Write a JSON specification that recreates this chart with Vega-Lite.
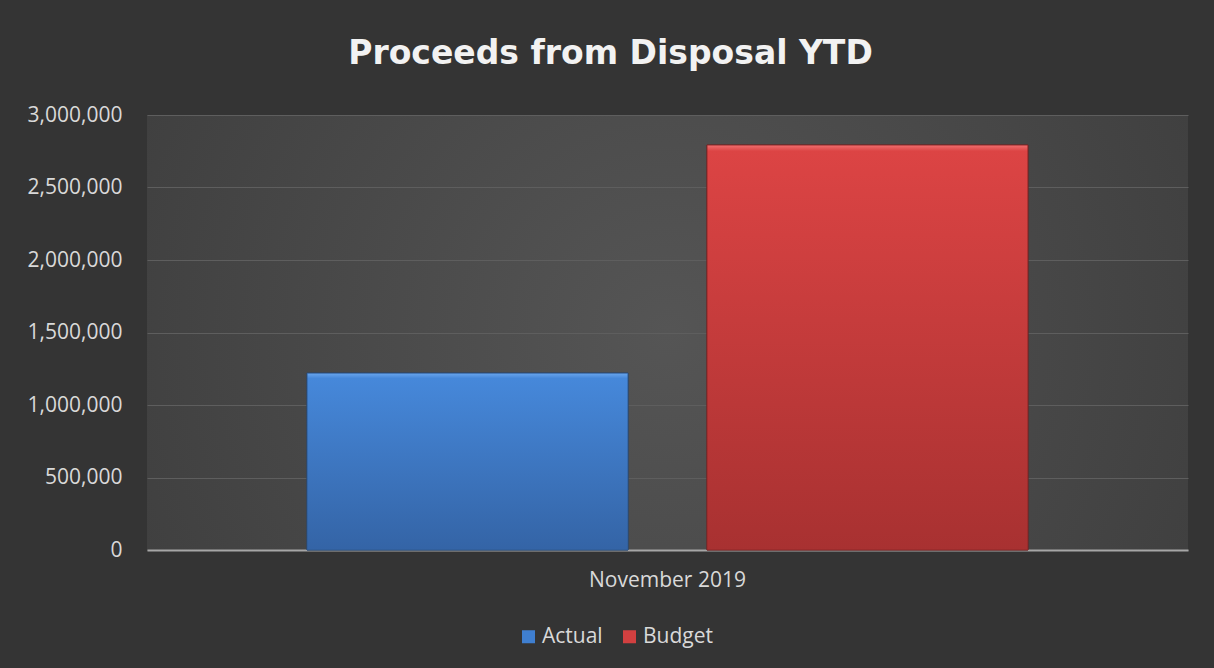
{
  "$schema": "https://vega.github.io/schema/vega-lite/v6.json",
  "width": 1041,
  "height": 435,
  "autosize": {"type": "none"},
  "padding": {"left": 147, "top": 115, "right": 26, "bottom": 118},
  "background": "#343434",
  "title": {
    "text": "Proceeds from Disposal YTD",
    "font": "DejaVu Sans",
    "fontSize": 33,
    "fontWeight": "bold",
    "color": "#f2f2f2",
    "anchor": "middle",
    "frame": "group",
    "dx": -57,
    "offset": 33,
    "limit": 0
  },
  "config": {
    "view": {"stroke": null, "fill": {"gradient": "radial", "x1": 0.5, "y1": 0.5, "r1": 0, "x2": 0.5, "y2": 0.5, "r2": 0.75, "stops": [{"offset": 0, "color": "#555555"}, {"offset": 1, "color": "#383838"}]}},
    "font": "Open Sans"
  },
  "data": {
    "values": [
      {"period": "November 2019", "series": "Actual", "value": 1220000},
      {"period": "November 2019", "series": "Budget", "value": 2793000}
    ]
  },
  "encoding": {
    "x": {
      "field": "period",
      "type": "nominal",
      "scale": {"paddingInner": 0, "paddingOuter": 0.222},
      "axis": {
        "title": null,
        "labelAngle": 0,
        "labelFont": "Open Sans",
        "labelFontSize": 21,
        "labelColor": "#d9d9d9",
        "labelPadding": 19,
        "ticks": false,
        "domainColor": "#a6a6a6",
        "domainWidth": 2
      }
    },
    "xOffset": {
      "field": "series",
      "type": "nominal",
      "scale": {"paddingInner": 0.1975, "paddingOuter": 0}
    },
    "y": {
      "field": "value",
      "type": "quantitative",
      "scale": {"domain": [0, 3000000], "nice": false},
      "axis": {
        "title": null,
        "values": [0, 500000, 1000000, 1500000, 2000000, 2500000, 3000000],
        "format": ",d",
        "labelFont": "Open Sans",
        "labelFontSize": 21,
        "labelColor": "#d9d9d9",
        "labelPadding": 25,
        "ticks": false,
        "domain": false,
        "gridColor": "#5e5e5e",
        "gridWidth": 1
      }
    }
  },
  "layer": [
    {
      "mark": {"type": "bar", "stroke": "#2a2a2a", "strokeWidth": 1},
      "encoding": {
        "color": {
          "field": "series",
          "type": "nominal",
          "scale": {"domain": ["Actual", "Budget"], "range": ["#3f7fd0", "#d24040"]},
          "legend": {
            "title": null,
            "orient": "none",
            "direction": "horizontal",
            "legendX": 371,
            "legendY": 511,
            "symbolType": "square",
            "symbolSize": 169,
            "symbolStrokeWidth": 0,
            "labelFont": "Open Sans",
            "labelFontSize": 21,
            "labelColor": "#d9d9d9",
            "columnPadding": 16,
            "labelOffset": 3
          }
        }
      }
    },
    {
      "transform": [{"filter": "datum.series === 'Actual'"}],
      "mark": {
        "type": "bar",
        "stroke": "#2f5a92",
        "strokeWidth": 1,
        "fill": {"gradient": "linear", "x1": 0, "y1": 0, "x2": 0, "y2": 1, "stops": [{"offset": 0, "color": "#6aa6ec"}, {"offset": 0.03, "color": "#4688da"}, {"offset": 1, "color": "#3464a6"}]}
      }
    },
    {
      "transform": [{"filter": "datum.series === 'Budget'"}],
      "mark": {
        "type": "bar",
        "stroke": "#8e2828",
        "strokeWidth": 1,
        "fill": {"gradient": "linear", "x1": 0, "y1": 0, "x2": 0, "y2": 1, "stops": [{"offset": 0, "color": "#f07070"}, {"offset": 0.015, "color": "#dc4444"}, {"offset": 1, "color": "#a83131"}]}
      }
    }
  ]
}
